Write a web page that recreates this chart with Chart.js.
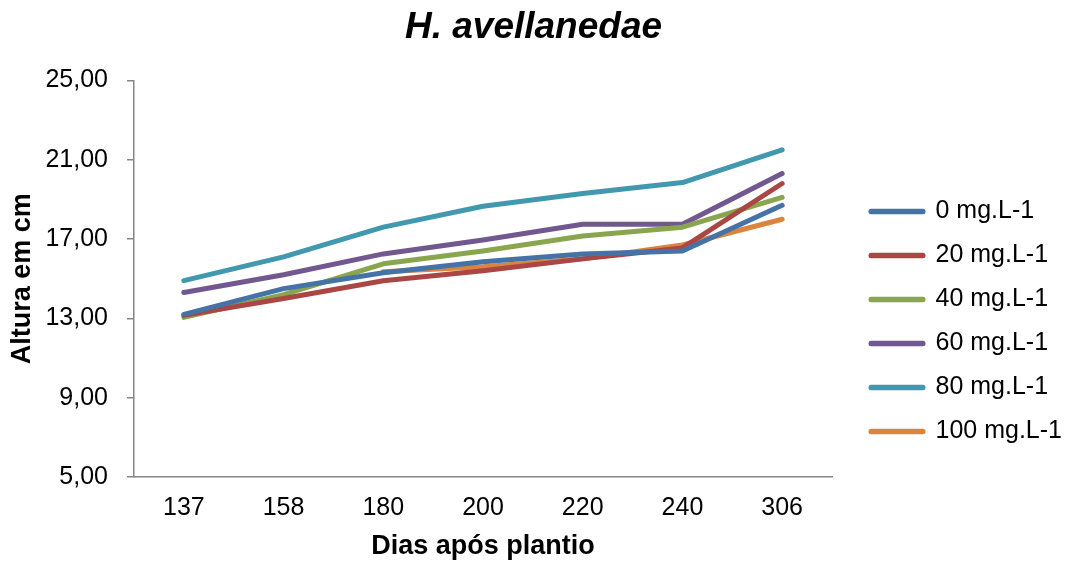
<!DOCTYPE html>
<html>
<head>
<meta charset="utf-8">
<script src="https://cdn.jsdelivr.net/npm/chart.js@4.4.1/dist/chart.umd.min.js"></script>
<style>
  html, body { margin: 0; padding: 0; background: #fff; }
  #wrap { width: 1067px; height: 563px; }
</style>
</head>
<body>
<div id="wrap"><canvas id="chart"></canvas></div>
<script>
// dias após plantio
const dias = ['137', '158', '180', '200', '220', '240', '306'];

// altura média (cm) por dose
const dose0 = [13.2, 14.5, 15.3, 15.85, 16.25, 16.4, 18.7];
const dose20 = [13.15, 14.0, 14.9, 15.4, 16.0, 16.55, 19.8];
const dose40 = [13.05, 14.2, 15.75, 16.4, 17.15, 17.6, 19.1];
const dose60 = [14.3, 15.2, 16.25, 16.95, 17.75, 17.75, 20.3];
const dose80 = [14.9, 16.1, 17.6, 18.65, 19.3, 19.85, 21.5];
const dose100 = [null, null, 15.35, 15.6, 16.0, 16.7, 18.0];

const nomes = ['0 mg.L-1', '20 mg.L-1', '40 mg.L-1', '60 mg.L-1', '80 mg.L-1', '100 mg.L-1'];
const cores = ['#4572A7', '#AA4643', '#89A54E', '#71588F', '#4198AF', '#DB843D'];
const series = [dose0, dose20, dose40, dose60, dose80, dose100];

const yTicks = [5, 9, 13, 17, 21, 25];

const FONT = 'Liberation Sans, Arial, sans-serif';
Chart.defaults.font.family = FONT;
Chart.defaults.color = '#000';

// legenda deslocada pra ficar como no Excel
const legendShift = {
  id: 'legendShift',
  afterInit(chart) {
    const lg = chart.legend;
    const fit = lg.fit.bind(lg);
    const draw = lg.draw.bind(lg);
    lg.fit = function () { fit(); this.width = 1067 - 832; };
    lg.draw = function () {
      const ctx = chart.ctx;
      ctx.save();
      ctx.translate(20, 40);
      draw();
      ctx.restore();
    };
  }
};

new Chart(document.getElementById('chart'), {
  type: 'line',
  data: {
    labels: dias,
    datasets: series.map((d, i) => ({
      label: nomes[i],
      data: d,
      borderColor: cores[i],
      backgroundColor: cores[i],
      borderWidth: 5,
      borderCapStyle: 'round',
      borderJoinStyle: 'round',
      pointRadius: 0,
      tension: 0,
      spanGaps: false
    }))
  },
  options: {
    responsive: true,
    maintainAspectRatio: false,
    animation: false,
    layout: { padding: 0 },
    plugins: {
      title: {
        display: true,
        text: 'H. avellanedae',
        font: { size: 37, weight: 'bold', style: 'italic' },
        padding: { top: 6, bottom: 30 }
      },
      legend: {
        position: 'right',
        labels: {
          boxWidth: 52,
          boxHeight: 0.5,
          padding: 19,
          font: { size: 25 }
        }
      },
      tooltip: { enabled: false }
    },
    scales: {
      x: {
        offset: true,
        grid: { display: false, drawTicks: false },
        border: { display: true, color: '#868686', width: 1.5 },
        ticks: { font: { size: 25 }, padding: 16 },
        title: {
          display: true,
          text: 'Dias após plantio',
          font: { size: 27, weight: 'bold' },
          padding: { top: 0, bottom: 0 }
        },
        afterFit(s) { s.height = 86; }
      },
      y: {
        min: 5,
        max: 25,
        grid: { drawOnChartArea: false, drawTicks: true, tickLength: 7, color: '#868686', lineWidth: 1.5 },
        border: { display: true, color: '#868686', width: 1.5 },
        afterBuildTicks(s) { s.ticks = yTicks.map(v => ({ value: v })); },
        ticks: {
          font: { size: 25 },
          padding: 19,
          callback: v => v.toFixed(2).replace('.', ',')
        },
        title: {
          display: true,
          text: 'Altura em cm',
          font: { size: 27, weight: 'bold' },
          padding: { top: 6, bottom: 0 }
        },
        afterFit(s) { s.width = 134; }
      }
    }
  },
  plugins: [legendShift]
});
</script>
</body>
</html>
